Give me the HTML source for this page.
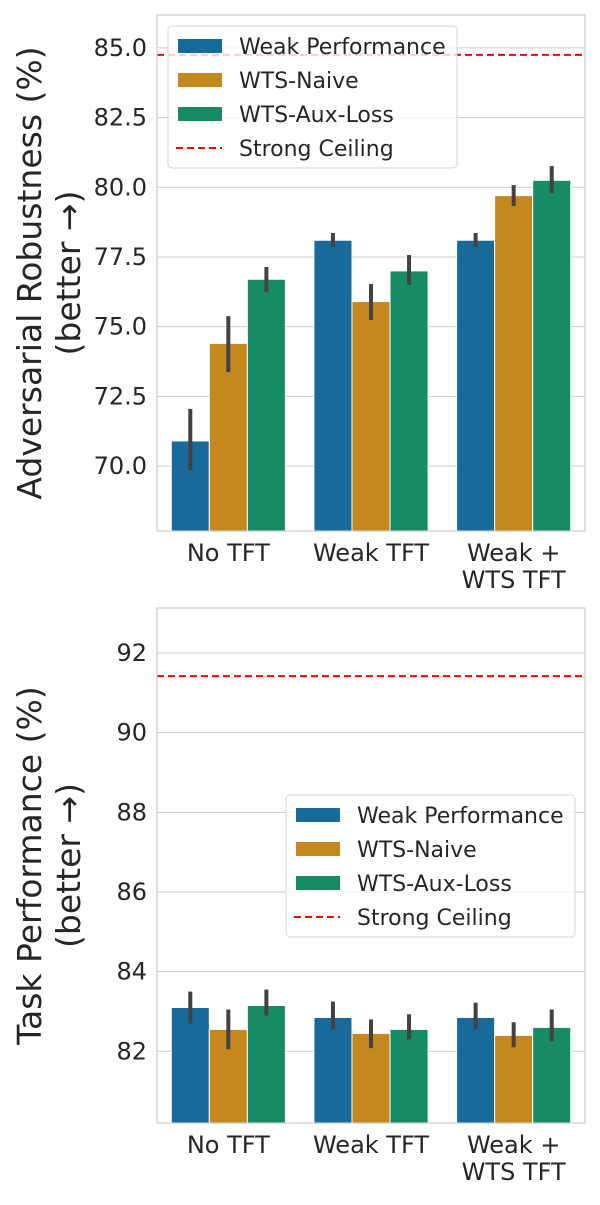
<!DOCTYPE html>
<html><head><meta charset="utf-8"><style>
body{margin:0;background:#fff;width:600px;height:1200px;overflow:hidden}
svg{font-family:"DejaVu Sans","Liberation Sans",sans-serif}
</style></head><body>
<svg id="chart" width="600" height="1200" xmlns="http://www.w3.org/2000/svg"></svg>
<script>
const categories = ["No TFT", "Weak TFT", "Weak +\nWTS TFT"];
const seriesNames = ["Weak Performance", "WTS-Naive", "WTS-Aux-Loss"];
const colors = ["#176a9a", "#c4881f", "#178a66"];
// Panel 1: adversarial robustness
const robWeak = [70.9, 78.1, 78.1];
const robNaive = [74.4, 75.9, 79.7];
const robAux = [76.7, 77.0, 80.25];
const robErrLo = [[69.85, 77.86, 77.86], [73.37, 75.24, 79.33], [76.24, 76.5, 79.79]];
const robErrHi = [[72.05, 78.36, 78.36], [75.38, 76.53, 80.08], [77.14, 77.57, 80.76]];
const robTicks = [70.0, 72.5, 75.0, 77.5, 80.0, 82.5, 85.0];
const robCeiling = 84.75;
// Panel 2: task performance
const perfWeak = [83.1, 82.85, 82.85];
const perfNaive = [82.55, 82.45, 82.4];
const perfAux = [83.15, 82.55, 82.6];
const perfErrLo = [[82.7, 82.55, 82.55], [82.05, 82.08, 82.1], [82.9, 82.3, 82.25]];
const perfErrHi = [[83.5, 83.25, 83.22], [83.05, 82.8, 82.73], [83.55, 82.93, 83.05]];
const perfTicks = [82, 84, 86, 88, 90, 92];
const perfCeiling = 91.42;

const NS = "http://www.w3.org/2000/svg";
const svg = document.getElementById("chart");
function mk(tag, attrs, parent) {
  const e = document.createElementNS(NS, tag);
  for (const k in attrs) e.setAttribute(k, attrs[k]);
  (parent || svg).appendChild(e);
  return e;
}

function panel(opt) {
  const g = mk("g", {});
  
  
  const L = 157, R = 585, T = opt.top, B = opt.bottom;
  const y = v => B - (v - opt.ymin) / (opt.ymax - opt.ymin) * (B - T);
  const band = (R - L) / categories.length;
  opt.ticks.forEach(t => {
    const gl = mk("line", {x1: L, x2: R, y1: y(t), y2: y(t), stroke: "#cccccc", "stroke-width": 1}, g);
    
    
    const tl = mk("text", {x: 147, y: y(t) + 8, "text-anchor": "end", "font-size": 24, fill: "#262626"}, g);
    tl.textContent = opt.fmt(t);
    
    
  });
  opt.series.forEach((vals, s) => {
    vals.forEach((v, c) => {
      const bw = band * 0.8 / 3;
      const x0 = L + band * c + band * 0.1 + bw * s;
      const r = mk("rect", {x: x0, y: y(v), width: bw, height: B - y(v), fill: colors[s], stroke: "#fff", "stroke-width": 1}, g);
      
      
      const e = mk("line", {x1: x0 + bw / 2, x2: x0 + bw / 2, y1: y(opt.lo[s][c]), y2: y(opt.hi[s][c]), stroke: "#424242", "stroke-width": 4}, g);
      
      
    });
  });
  const cl = mk("line", {x1: L, x2: R, y1: y(opt.ceiling), y2: y(opt.ceiling), stroke: "#ff0000", "stroke-width": 2, "stroke-dasharray": "7,4"}, g);
  
  
  const fr = mk("rect", {x: L, y: T, width: R - L, height: B - T, fill: "none", stroke: "#cccccc", "stroke-width": 1.2}, g);
  
  
  categories.forEach((c, i) => {
    const lines = c.split("\n");
    lines.forEach((ln, j) => {
      const t = mk("text", {x: L + band * (i + 0.5), y: B + 30 + j * 27, "text-anchor": "middle", "font-size": 24, fill: "#262626"}, g);
      t.textContent = ln;
      
      
    });
  });
  const cy = (T + B) / 2;
  const yt = mk("text", {transform: `translate(41,${cy}) rotate(-90)`, "text-anchor": "middle", "font-size": 33, fill: "#262626"}, g);
  yt.textContent = opt.title;
  
  
  const yt2 = mk("text", {transform: `translate(80,${cy}) rotate(-90)`, "text-anchor": "middle", "font-size": 33, fill: "#262626"}, g);
  yt2.textContent = "(better \u2192)";
  
  
  const lx = opt.legX, ly = opt.legY;
  const lg = mk("g", {}, g);
  
  
  mk("rect", {x: lx, y: ly, width: 289, height: 142, rx: 4, fill: "#fff", "fill-opacity": 0.8, stroke: "#d6d6d6"}, lg);
  const names = seriesNames.concat(["Strong Ceiling"]);
  names.forEach((n, i) => {
    const ey = ly + 20 + i * 34;
    if (i < 3) {
      const p = mk("rect", {x: lx + 10, y: ey - 7, width: 44, height: 14, fill: colors[i]}, lg);
      
      
    } else {
      const p = mk("line", {x1: lx + 8, x2: lx + 54, y1: ey, y2: ey, stroke: "#ff0000", "stroke-width": 2, "stroke-dasharray": "7,4"}, lg);
      
      
    }
    const t = mk("text", {x: lx + 71, y: ey + 8, "font-size": 22, fill: "#262626"}, lg);
    t.textContent = n;
    
    
  });
}

panel({name: "robustness-panel", top: 15, bottom: 531, ymin: 67.67, ymax: 86.18,
  series: [robWeak, robNaive, robAux], lo: robErrLo, hi: robErrHi, ticks: robTicks,
  fmt: t => t.toFixed(1), ceiling: robCeiling, title: "Adversarial Robustness (%)", legX: 168, legY: 26});
panel({name: "performance-panel", top: 608, bottom: 1123, ymin: 80.2, ymax: 93.13,
  series: [perfWeak, perfNaive, perfAux], lo: perfErrLo, hi: perfErrHi, ticks: perfTicks,
  fmt: t => String(t), ceiling: perfCeiling, title: "Task Performance (%)", legX: 286, legY: 795});
</script>
</body></html>
